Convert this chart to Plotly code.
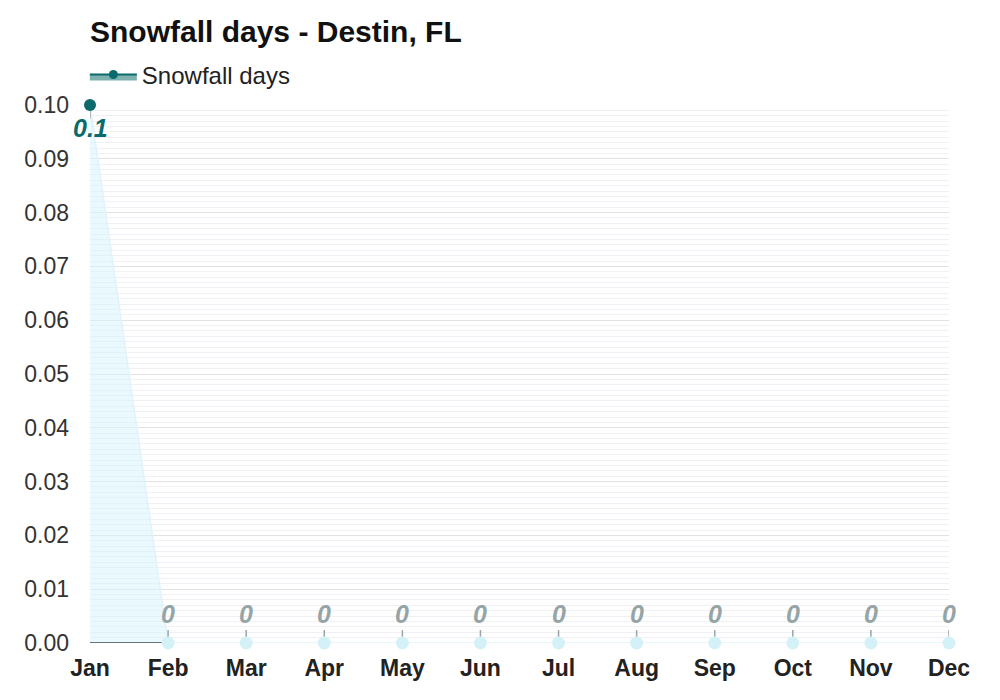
import plotly.graph_objects as go

months = ["Jan", "Feb", "Mar", "Apr", "May", "Jun",
          "Jul", "Aug", "Sep", "Oct", "Nov", "Dec"]
snow_days = [0.1, 0, 0, 0, 0, 0, 0, 0, 0, 0, 0, 0]
y_ticks = [0.00, 0.01, 0.02, 0.03, 0.04, 0.05, 0.06, 0.07, 0.08, 0.09, 0.10]

teal = "#0b6a6b"
pale = "#d5f1f8"

marker_colors = [teal if v > 0 else pale for v in snow_days]
marker_sizes = [12 if v > 0 else 13 for v in snow_days]

fig = go.Figure()

# shaded area + series line
fig.add_trace(go.Scatter(
    x=months, y=snow_days,
    mode="lines",
    line=dict(color="#dff4fa", width=1.5),
    fill="tozeroy",
    fillcolor="rgba(215,244,252,0.55)",
    showlegend=False,
    hoverinfo="skip",
    cliponaxis=False,
))

# dark baseline under the first segment
fig.add_trace(go.Scatter(
    x=months[:2], y=[0, 0],
    mode="lines",
    line=dict(color="#37474f", width=1.5),
    showlegend=False,
    hoverinfo="skip",
))

# short connector ticks between points and labels (error bars)
fig.add_trace(go.Scatter(
    x=months, y=snow_days,
    mode="markers",
    marker=dict(color="rgba(0,0,0,0)", size=1),
    error_y=dict(
        type="data", symmetric=False,
        array=[0 if v > 0 else 0.0024 for v in snow_days],
        arrayminus=[0.0025 if v > 0 else 0 for v in snow_days],
        color="#9aa5a8", thickness=1.5, width=0,
    ),
    showlegend=False,
    hoverinfo="skip",
    cliponaxis=False,
))

# markers on top
fig.add_trace(go.Scatter(
    x=months, y=snow_days,
    mode="markers",
    marker=dict(color=marker_colors, size=marker_sizes, opacity=1,
                line=dict(width=0)),
    showlegend=False,
    cliponaxis=False,
))

# legend entry
fig.add_trace(go.Scatter(
    x=[None], y=[None],
    name="Snowfall days",
    mode="lines+markers",
    line=dict(color=teal, width=2),
    marker=dict(color=teal, size=9),
    fill="tozeroy",
    fillcolor="#7fb0b0",
))

for m, v in zip(months, snow_days):
    fig.add_annotation(
        x=m, y=v,
        text="<b><i>%g</i></b>" % v,
        showarrow=False,
        yshift=-23 if v > 0 else 29,
        font=dict(size=25, color=teal if v > 0 else "#95a5a6",
                  family="Liberation Sans, Arial"),
    )

fig.update_layout(
    width=1000, height=700,
    margin=dict(l=82, r=59, t=97, b=65),
    paper_bgcolor="white",
    plot_bgcolor="white",
    font=dict(family="Liberation Sans, Arial", color="#333333"),
    title=dict(
        text="<b>Snowfall days - Destin, FL</b>",
        x=0.082, xanchor="left", y=0.966, yanchor="middle",
        font=dict(size=30, color="#111111"),
    ),
    legend=dict(
        orientation="h", x=-0.006, y=1.056,
        xanchor="left", yanchor="middle",
        font=dict(size=24, color="#222222"),
        bgcolor="rgba(0,0,0,0)",
        itemwidth=47,
    ),
    xaxis=dict(
        range=[0, 11],
        showgrid=False,
        zeroline=False,
        tickfont=dict(size=23, color="#222222"),
        tickprefix="<b>", ticksuffix="</b>",
        ticks="",
        ticklabelstandoff=9,
    ),
    yaxis=dict(
        range=[0, 0.1],
        tickvals=y_ticks,
        tickformat=".2f",
        tickfont=dict(size=23, color="#333333"),
        showgrid=True,
        gridcolor="#e2e2e2",
        gridwidth=1,
        zeroline=False,
        ticks="",
        ticklabelstandoff=20,
        minor=dict(dtick=0.001, showgrid=True, gridcolor="#f1f0f4", gridwidth=1),
    ),
)

fig.write_html("out.html")
